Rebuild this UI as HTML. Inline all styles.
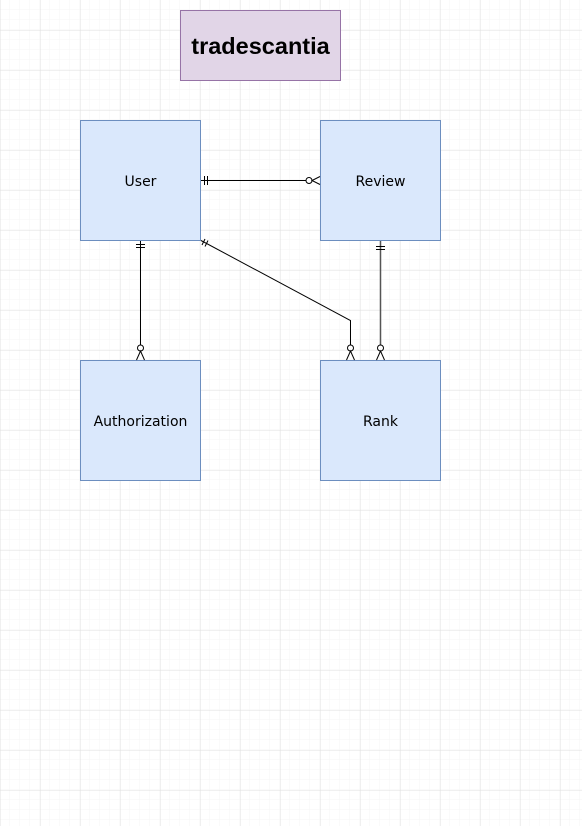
<!DOCTYPE html>
<html><head><style>html,body{margin:0;padding:0;background:#fff}</style></head>
<body>
<svg width="582" height="826" xmlns="http://www.w3.org/2000/svg" font-family="Liberation Sans, sans-serif">
<defs>
<pattern id="mn" width="10" height="10" patternUnits="userSpaceOnUse" x="0" y="0">
<path d="M10 0V10M0 10H10" stroke="#f5f5f5" stroke-width="1" fill="none"/>
</pattern>
<pattern id="mj" width="40" height="40" patternUnits="userSpaceOnUse" x="0.5" y="30.5">
<path d="M0 0V40M0 0H40" stroke="#e0e0e0" stroke-width="1" fill="none"/>
</pattern>
</defs>
<rect width="582" height="826" fill="url(#mn)"/>
<rect width="582" height="826" fill="url(#mj)"/>
<rect x="180.5" y="10.5" width="160" height="70" fill="#e1d5e7" stroke="#9673a6"/>
<text x="260.5" y="54" text-anchor="middle" font-size="23.5" font-weight="bold">tradescantia</text>
<g fill="#dae8fc" stroke="#6c8ebf">
<rect x="80.5" y="120.5" width="120" height="120"/>
<rect x="320.5" y="120.5" width="120" height="120"/>
<rect x="80.5" y="360.5" width="120" height="120"/>
<rect x="320.5" y="360.5" width="120" height="120"/>
</g>
<g font-size="14" text-anchor="middle" fill="#000" font-family="DejaVu Sans, sans-serif">
<text x="140.5" y="186">User</text>
<text x="380.5" y="186">Review</text>
<text x="140.5" y="426">Authorization</text>
<text x="380.5" y="426">Rank</text>
</g>
<g stroke="#000" fill="none" stroke-width="1">
<path d="M201 180.5H306"/>
<path d="M204.5 176V185M207.5 176V185"/>
<circle cx="309" cy="180.5" r="3" fill="#fff"/>
<path d="M320 176.5L312 180.5L320 184.5"/>
<path d="M140.5 241V345"/>
<path d="M136 244.5H145M136 247.5H145"/>
<circle cx="140.5" cy="348" r="3" fill="#fff"/>
<path d="M136.5 360L140.5 351L144.5 360"/>
<path d="M201 240.5L350.5 320.5V345"/>
<path d="M202 245L205 239M205 246.5L208 240.5"/>
<circle cx="350.5" cy="348" r="3" fill="#fff"/>
<path d="M346.5 360L350.5 351L354.5 360"/>
<path d="M380.5 241V345" stroke="#555" stroke-width="1.5"/>
<path d="M376 246.5H385M376 249.5H385"/>
<circle cx="380.5" cy="348" r="3" fill="#fff"/>
<path d="M376.5 360L380.5 351L384.5 360"/>
</g>
</svg>
</body></html>
